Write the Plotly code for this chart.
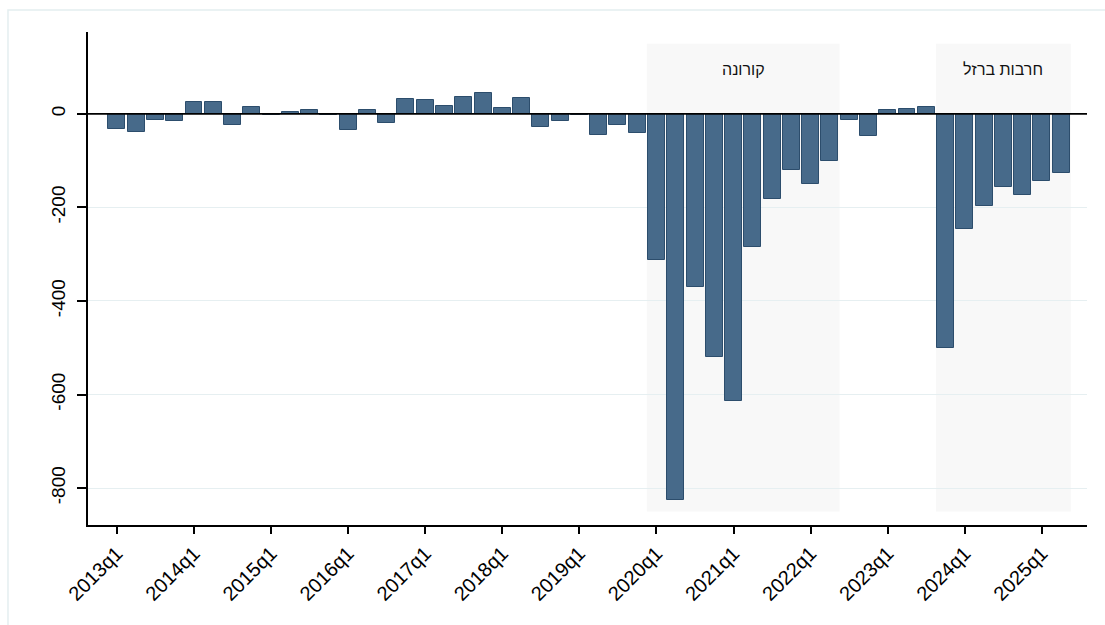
import plotly.graph_objects as go

# ---- data ----
quarters = [f"{y}q{q}" for y in range(2013, 2026) for q in range(1, 5)][:50]
values = [
    -32, -38, -13, -15,      # 2013
    26, 26, -23, 14,         # 2014
    -2, 5, 8, -2,            # 2015
    -34, 9, -20, 32,         # 2016
    29, 17, 37, 44,          # 2017
    13, 33, -29, -16,        # 2018
    -3, -46, -23, -40,       # 2019
    -312, -826, -371, -520,  # 2020
    -613, -284, -181, -119,  # 2021
    -149, -101, -13, -47,    # 2022
    8, 10, 15, -501,         # 2023
    -246, -197, -156, -174,  # 2024
    -143, -127,              # 2025
]
tick_labels = [f"{y}q1" for y in range(2013, 2026)]
y_ticks = [0, -200, -400, -600, -800]
shade_labels = ["קורונה", "חרבות ברזל"]
shade_start = ["2020q1", "2023q4"]
shade_end = ["2022q2", "2025q2"]
shade_low, shade_high = -850, 150

idx = list(range(len(quarters)))
pos = {q: i for i, q in enumerate(quarters)}

fig = go.Figure()

fig.add_trace(go.Bar(
    x=idx, y=values, width=0.88,
    marker=dict(color="#476a8a", line=dict(color="#2c4d6c", width=1)),
    hovertext=quarters, showlegend=False,
))

shapes = []
annotations = []
for lab, s, e in zip(shade_labels, shade_start, shade_end):
    x0 = pos[s] - 0.5
    x1 = pos[e] + 0.5
    shapes.append(dict(type="rect", xref="x", yref="y", x0=x0, x1=x1,
                       y0=shade_low, y1=shade_high, fillcolor="#f8f8f8",
                       line=dict(width=0), layer="below"))
    annotations.append(dict(x=(x0 + x1) / 2, y=94, xref="x", yref="y",
                            text=lab, showarrow=False,
                            font=dict(family="Liberation Sans, Arial", size=16, color="#111")))

# zero line
shapes.append(dict(type="line", xref="paper", yref="y", x0=0, x1=1, y0=0, y1=0,
                   line=dict(color="#000", width=1.6), layer="above"))
# outer graph-region frame
shapes.append(dict(type="rect", xref="paper", yref="paper",
                   x0=-0.0801, x1=1.2, y0=-0.4, y1=1.0446,
                   line=dict(color="#e4eef0", width=1.5), fillcolor="rgba(0,0,0,0)",
                   layer="below"))

fig.update_layout(
    width=1105, height=625,
    margin=dict(l=88, r=18, t=32, b=100, autoexpand=False),
    paper_bgcolor="white", plot_bgcolor="white",
    font=dict(family="Liberation Sans, Arial", size=19, color="#000"),
    shapes=shapes, annotations=annotations,
    bargap=0,
)
fig.update_xaxes(
    range=[-1.5, 50.34],
    tickmode="array", tickvals=[pos[t] for t in tick_labels], ticktext=tick_labels,
    tickangle=-45, ticks="outside", ticklen=7, tickwidth=1.5, tickcolor="#000",
    tickfont=dict(size=20),
    showline=True, linecolor="#000", linewidth=1.5, showgrid=False, zeroline=False,
    automargin=False,
)
fig.update_yaxes(
    range=[-879, 175],
    tickmode="array", tickvals=y_ticks, ticktext=[str(v) for v in y_ticks],
    tickangle=-90, ticks="outside", ticklen=9, tickwidth=1.5, tickcolor="#000",
    tickfont=dict(size=19),
    showline=True, linecolor="#000", linewidth=1.5,
    showgrid=True, gridcolor="#e6eff1", gridwidth=1.2, zeroline=False,
    ticklabelstandoff=5, automargin=False,
)

fig.write_html(
    "out.html",
    config={"displayModeBar": False},
    post_script="document.body.style.margin='0';document.body.style.padding='0';",
)
